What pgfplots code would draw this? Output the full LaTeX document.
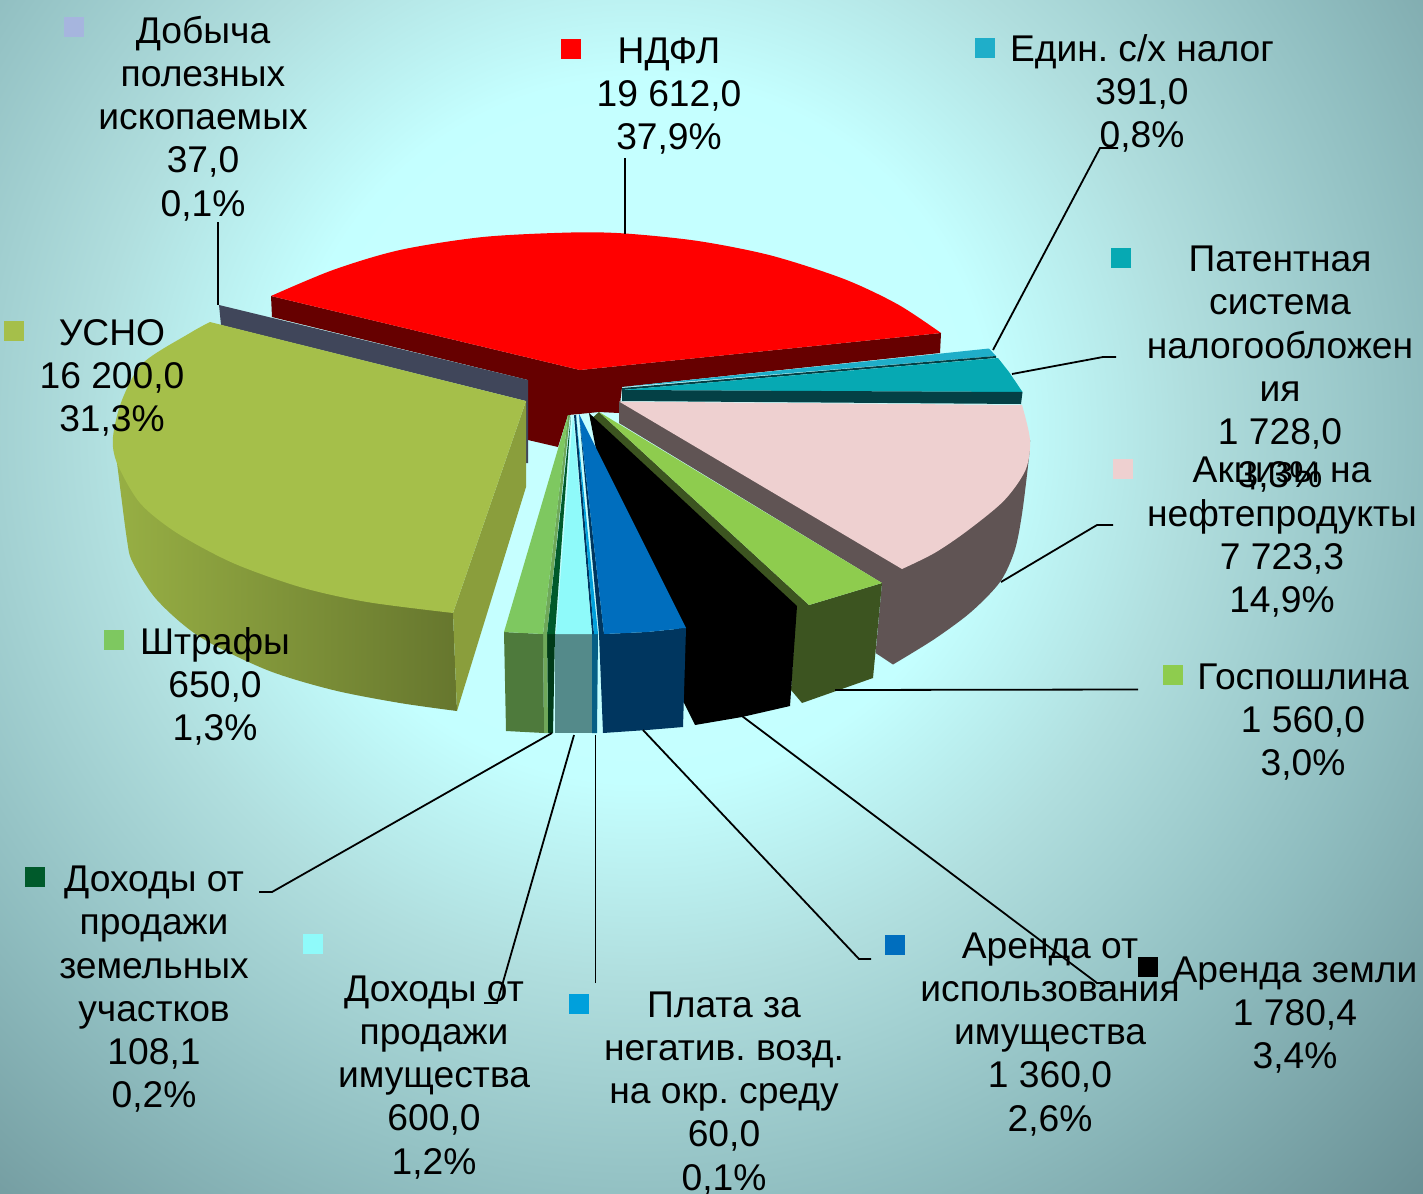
\documentclass[border=0pt]{standalone}
\usepackage{fontspec}
\setmainfont{Liberation Sans}
\usepackage{graphicx}
\usepackage{pgfplots}
\pgfplotsset{compat=1.18}
\pgfdeclareradialshading{bgshade}{\pgfpoint{0bp}{0bp}}{%
rgb(0bp)=(0.78,1,1);rgb(8bp)=(0.77,1,1);rgb(12.5bp)=(0.69,0.87,0.87);rgb(18bp)=(0.56,0.74,0.75);rgb(25bp)=(0.41,0.56,0.58);rgb(50bp)=(0.41,0.56,0.58)}
\newcommand{\lab}[4]{\node[inner sep=0pt,text=black] at (axis cs:#1,#2+4) {\scalebox{#3}[1]{\fontsize{18.6}{21.6}\selectfont\frenchspacing\begin{tabular}{@{}c@{}}#4\end{tabular}}};}
\tikzset{poly/.style={draw=none,mark=none,fill=#1}}
\tikzset{arcpoly/.style={draw=none,mark=none,fill=#1,smooth}}
\tikzset{keymark/.style={only marks,mark=square*,mark size=4.6pt,mark options={draw=#1,fill=#1}}}
\tikzset{leader/.style={black,line width=0.9pt,mark=none}}
\definecolor{cDob}{HTML}{A6B5DE}
\definecolor{cRedD}{HTML}{660000}
\definecolor{cGrey}{HTML}{40465A}
\definecolor{cOl}{HTML}{A5BF4A}
\definecolor{cOlS}{HTML}{8A9E3C}
\definecolor{cPink}{HTML}{EED0D0}
\definecolor{cPinkD}{HTML}{605454}
\definecolor{cTeal}{HTML}{06A9B3}
\definecolor{cTealD}{HTML}{044045}
\definecolor{cEd}{HTML}{1FAEC9}
\definecolor{cGr}{HTML}{8ECC4E}
\definecolor{cGrD}{HTML}{3C5420}
\definecolor{cBl}{HTML}{006EBE}
\definecolor{cBlD}{HTML}{00365F}
\definecolor{cSky}{HTML}{00A0DC}
\definecolor{cSkyD}{HTML}{065F85}
\definecolor{cCy}{HTML}{8FFAFA}
\definecolor{cCyD}{HTML}{548A8A}
\definecolor{cZem}{HTML}{005A2B}
\definecolor{cZemD}{HTML}{003A18}
\definecolor{cSh}{HTML}{7EC860}
\definecolor{cShD}{HTML}{4E7A3C}
\definecolor{cShE}{HTML}{6FA85A}
\begin{document}
\begin{tikzpicture}
\useasboundingbox (0,0) rectangle (711.5pt,596.5pt);
\begin{scope}
\clip (0,0) rectangle (711.5pt,596.5pt);
\shade[shading=bgshade] (320pt,381.5pt) circle (550pt);
\end{scope}
\begin{axis}[scale only axis,width=711.5pt,height=596.5pt,xmin=0,xmax=1423,ymin=0,ymax=1193,y dir=reverse,hide axis,clip=false]
% red
\addplot[poly=cRedD] coordinates {(271,296)(580,370)(941,333)(940,353)(622,387)(619,413)(599,412)(579,414)(568,415)(558,447)(528,440)(528,380)(272,317)} -- cycle;
\addplot[arcpoly=red] coordinates {(271,296)(333,270)(400,250)(483,237)(571,232.5)(625,233.5)(698,241)(771,255.5)(844,279)(898,304.5)(941,333)} -- (axis cs:580,370) -- cycle;
% Dobycha
\addplot[poly=cGrey] coordinates {(219,305)(528,380)(528,463)(526,463)(526,401)(221,325)} -- cycle;
% USNO
\addplot[draw=none,mark=none,smooth,left color=cOl!92!black,right color=cOl!62!black] coordinates {(457,711)(400,703)(333,690)(267,670)(200,637)(157,600)(133,563)(127,540)(117,463)(113,437)} -- (axis cs:300,450) -- (axis cs:453,613) -- cycle;
\addplot[poly=cOlS] coordinates {(526,401)(526,487)(457,711)(453,613)} -- cycle;
\addplot[arcpoly=cOl] coordinates {(210,322)(190,333)(143,363)(122,400)(113,437)(117,463)(140,503)(177,533)(233,563)(300,587)(367,602)(453,613)} -- (axis cs:526,401) -- cycle;
% Edin
\addplot[poly=cEd] coordinates {(622,387)(989,348.5)(996,356)} -- cycle;
\addplot[poly=cTealD] coordinates {(622,388)(996,356)(996,358)(622,390)} -- cycle;
% Patent
\addplot[poly=cTeal] coordinates {(622,390)(998,358)(1009,372)(1022.5,392)} -- cycle;
\addplot[poly=cTealD] coordinates {(622,390)(1022.5,392)(1021,404)(622,401)} -- cycle;
% Aktsiz
\addplot[draw=none,mark=none,smooth,fill=cPinkD] coordinates {(1030,440)(1029,457)(1022,514)(1014.5,551)(1000,582)(971,612)(934.5,639)(893,664.5)} -- (axis cs:875.6,653) -- (axis cs:882,583) -- (axis cs:619,423) -- (axis cs:619,401.5) -- cycle;
\addplot[arcpoly=cPink] coordinates {(1022,405)(1030,440)(1025.5,470)(1004,500.6)(967,531)(934.5,553)(902,569)} -- (axis cs:619,401.5) -- cycle;
% Gosposhlina
\addplot[poly=cGrD] coordinates {(599,412)(809,605)(882,583)(873,678)(802,703)(791,690)(796,609)(590,420)} -- cycle;
\addplot[poly=cGr] coordinates {(599,412)(882,583)(843.6,594.6)(809,605)} -- cycle;
% Arenda zemli
\addplot[poly=black] coordinates {(589,413)(797,606)(790,706)(742,717)(695,725)(684,703)(684,640)(600,470)} -- cycle;
% Arenda
\addplot[poly=cBlD] coordinates {(579,414)(604,634)(647,632)(686,628)(683,727)(647,730)(603,733)(599,634)} -- cycle;
\addplot[poly=cBl] coordinates {(579,414)(686,628)(647,632)(604,634)} -- cycle;
% Plata
\addplot[poly=cSkyD] coordinates {(592,634)(594,634)(598,634)(597,733)(592,733)} -- cycle;
\addplot[poly=cBlD] coordinates {(574,415)(576,415)(594,634)(592,634)} -- cycle;
\addplot[poly=cSky] coordinates {(576,415)(598,634)(594,634)} -- cycle;
% Dokhody im
\addplot[poly=cCyD] coordinates {(555,634)(592,634)(592,733)(555,733)} -- cycle;
\addplot[poly=cCy] coordinates {(573,415)(592,634)(556,634)} -- cycle;
% Zem
\addplot[poly=cZemD] coordinates {(547,634)(555,634)(553,733)(548,733)} -- cycle;
\addplot[poly=cZem] coordinates {(571,415)(555,634)(547,634)} -- cycle;
% Shtrafy
\addplot[poly=cShE] coordinates {(543,634)(547,634)(548,733)(544,733)} -- cycle;
\addplot[poly=cShE] coordinates {(568,415)(570,415)(547,634)(543,634)} -- cycle;
\addplot[poly=cShD] coordinates {(504,632)(543,634)(544,733)(506,731)} -- cycle;
\addplot[poly=cSh] coordinates {(568,415)(543,634)(504,632)} -- cycle;
% leaders
\addplot[leader] coordinates {(625,158)(625,234)};
\addplot[leader] coordinates {(1118,148)(1100,148)(993,350)};
\addplot[leader] coordinates {(1116,357)(1103,357)(1012,374)};
\addplot[leader] coordinates {(1113,525)(1097,525)(1001,582)};
\addplot[leader] coordinates {(1138,689.5)(835,690)};
\addplot[leader] coordinates {(1108,983)(1097,983)(742,716)};
\addplot[leader] coordinates {(871,959)(859,959)(643,730)};
\addplot[leader] coordinates {(595.5,983)(595.5,735)};
\addplot[leader] coordinates {(484,1003)(497,1003)(574,735)};
\addplot[leader] coordinates {(259,892)(272,892)(552,733)};
\addplot[leader] coordinates {(218,222)(218,305)};
% legend keys
\addplot[keymark=cDob] coordinates {(74,27)};
\addplot[keymark=red] coordinates {(571,49)};
\addplot[keymark=cEd] coordinates {(985,48)};
\addplot[keymark=cTeal] coordinates {(1121,258)};
\addplot[keymark=cPink] coordinates {(1123,469)};
\addplot[keymark=cGr] coordinates {(1173,675)};
\addplot[keymark=black] coordinates {(1148,967)};
\addplot[keymark=cBl] coordinates {(895,945)};
\addplot[keymark=cSky] coordinates {(579,1004)};
\addplot[keymark=cCy] coordinates {(313,944)};
\addplot[keymark=cZem] coordinates {(35,877)};
\addplot[keymark=cSh] coordinates {(114,640)};
\addplot[keymark=cOl] coordinates {(14,331)};
% labels
\lab{203}{117}{1}{Добыча\\полезных\\ископаемых\\37,0\\0,1\%}
\lab{669}{94}{1}{НДФЛ\\19 612,0\\37,9\%}
\lab{1142}{92}{1}{Един. с/х налог\\391,0\\0,8\%}
\lab{1280}{367}{1}{Патентная\\система\\налогообложен\\ия\\1 728,0\\3,3\%}
\lab{1282}{535}{1}{Акцизы на\\нефтепродукты\\7 723,3\\14,9\%}
\lab{1303}{720}{1}{Госпошлина\\1 560,0\\3,0\%}
\lab{1295}{1013}{1}{Аренда земли\\1 780,4\\3,4\%}
\lab{1050}{1032}{1}{Аренда от\\использования\\имущества\\1 360,0\\2,6\%}
\lab{724}{1091}{1}{Плата за\\негатив. возд.\\на окр. среду\\60,0\\0,1\%}
\lab{434}{1075}{1}{Доходы от\\продажи\\имущества\\600,0\\1,2\%}
\lab{154}{987}{1}{Доходы от\\продажи\\земельных\\участков\\108,1\\0,2\%}
\lab{215}{685}{1}{Штрафы\\650,0\\1,3\%}
\lab{112}{376}{1}{УСНО\\16 200,0\\31,3\%}
\end{axis}
\end{tikzpicture}
\end{document}
